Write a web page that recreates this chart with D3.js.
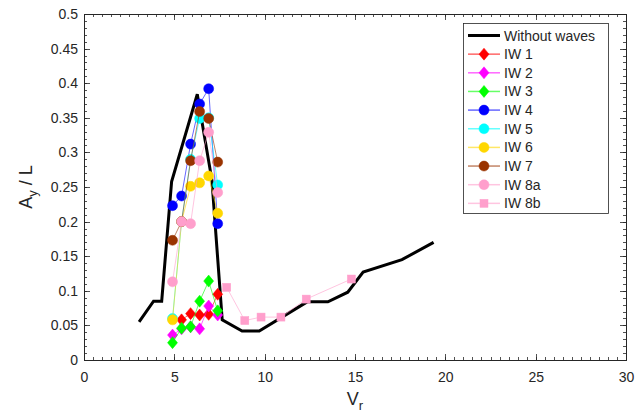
<!DOCTYPE html>
<html>
<head>
<meta charset="utf-8">
<script src="https://cdn.jsdelivr.net/npm/d3@7"></script>
<style>
  html, body { margin: 0; padding: 0; background: #fff; }
  svg { display: block; }
  text { font-family: "Liberation Sans", Arial, Helvetica, sans-serif; fill: #262626; }
</style>
</head>
<body>
<svg id="chart" width="641" height="415"></svg>
<script>
// ---- data ----
const vrBase = [3.05, 3.85, 4.3, 4.85, 6.27, 7.08, 7.65, 8.75, 9.7, 12.35, 13.5, 14.6, 15.45, 17.6, 19.35];
const ayBase = [0.055, 0.085, 0.085, 0.258, 0.384, 0.26, 0.058, 0.042, 0.042, 0.084, 0.084, 0.098, 0.127, 0.145, 0.17];

const vrIW1 = [5.4, 5.9, 6.4, 6.9, 7.4];
const ayIW1 = [0.058, 0.067, 0.065, 0.066, 0.095];
const vrIW2 = [4.9, 5.4, 5.9, 6.4, 6.9, 7.4];
const ayIW2 = [0.036, 0.045, 0.048, 0.045, 0.078, 0.065];
const vrIW3 = [4.9, 5.4, 5.9, 6.4, 6.9, 7.4];
const ayIW3 = [0.025, 0.046, 0.048, 0.085, 0.114, 0.071];
const vrIW4 = [4.9, 5.4, 5.9, 6.4, 6.9, 7.4];
const ayIW4 = [0.223, 0.237, 0.312, 0.37, 0.392, 0.197];
const vrIW5 = [4.9, 5.4, 5.9, 6.4, 6.9, 7.4];
const ayIW5 = [0.06, 0.2, 0.29, 0.349, 0.35, 0.253];
const vrIW6 = [4.9, 5.4, 5.9, 6.4, 6.9, 7.4];
const ayIW6 = [0.058, 0.2, 0.251, 0.256, 0.266, 0.212];
const vrIW7 = [4.9, 5.4, 5.9, 6.4, 6.9, 7.4];
const ayIW7 = [0.173, 0.2, 0.288, 0.359, 0.349, 0.286];
const vrIW8a = [4.9, 5.4, 5.9, 6.4, 6.9, 7.4];
const ayIW8a = [0.113, 0.2, 0.197, 0.288, 0.329, 0.242];
const vrIW8b = [7.9, 8.9, 9.8, 10.9, 12.3, 14.8];
const ayIW8b = [0.105, 0.057, 0.062, 0.062, 0.088, 0.117];

const seriesNames = ["IW 1", "IW 2", "IW 3", "IW 4", "IW 5", "IW 6", "IW 7", "IW 8a", "IW 8b"];
const seriesColors = ["#ff0000", "#ff00ff", "#00ff00", "#0000ff", "#00ffff", "#ffd700", "#993300", "#ff9fcc", "#ff9fcc"];
const seriesMarkers = ["diamond", "diamond", "diamond", "circle", "circle", "circle", "circle", "circle", "square"];
const seriesVr = [vrIW1, vrIW2, vrIW3, vrIW4, vrIW5, vrIW6, vrIW7, vrIW8a, vrIW8b];
const seriesAy = [ayIW1, ayIW2, ayIW3, ayIW4, ayIW5, ayIW6, ayIW7, ayIW8a, ayIW8b];

const xTicks = [0, 5, 10, 15, 20, 25, 30];
const yTicks = [0, 0.05, 0.1, 0.15, 0.2, 0.25, 0.3, 0.35, 0.4, 0.45, 0.5];
const yTickLabels = ["0", "0.05", "0.1", "0.15", "0.2", "0.25", "0.3", "0.35", "0.4", "0.45", "0.5"];

// ---- layout ----
const L = 84, R = 626, T = 14, B = 360;
const svg = d3.select("#chart");
const x = d3.scaleLinear().domain([0, 30]).range([L, R]);
const y = d3.scaleLinear().domain([0, 0.5]).range([B, T]);
const axisColor = "#262626";

// minor ticks
const xMinor = d3.range(0, 30.001, 0.5);
const yMinor = d3.range(0, 0.5001, 0.01);

const tickG = svg.append("g");
function tickLine(x1, y1, x2, y2) {
  tickG.append("line").attr("x1", x1).attr("y1", y1).attr("x2", x2).attr("y2", y2)
    .attr("stroke", axisColor).attr("stroke-width", 0.8);
}
xMinor.forEach(v => {
  const px = Math.round(x(v)) + 0.5;
  tickLine(px, B, px, B - 3);
  tickLine(px, T, px, T + 3);
});
xTicks.forEach(v => {
  const px = Math.round(x(v)) + 0.5;
  tickLine(px, B, px, B - 6);
  tickLine(px, T, px, T + 6);
});
yMinor.forEach(v => {
  const py = Math.round(y(v)) + 0.5;
  tickLine(L, py, L + 3, py);
  tickLine(R, py, R - 3, py);
});
yTicks.forEach(v => {
  const py = Math.round(y(v)) + 0.5;
  tickLine(L, py, L + 6, py);
  tickLine(R, py, R - 6, py);
});

// box
svg.append("rect").attr("x", L + 0.5).attr("y", T + 0.5).attr("width", R - L).attr("height", B - T)
  .attr("fill", "none").attr("stroke", axisColor).attr("stroke-width", 1);

// tick labels
const xAxis = d3.axisBottom(x).tickValues(xTicks).tickSize(0).tickPadding(12).tickFormat(d3.format("d"));
const gx = svg.append("g").attr("transform", `translate(0,${B})`).call(xAxis);
gx.select(".domain").remove();
gx.selectAll("text").attr("font-size", 14).style("font-family", '"Liberation Sans", Arial, sans-serif').attr("fill", axisColor);

const yAxis = d3.axisLeft(y).tickValues(yTicks).tickSize(0).tickPadding(6).tickFormat((d, i) => yTickLabels[i]);
const gy = svg.append("g").attr("transform", `translate(${L},0)`).call(yAxis);
gy.select(".domain").remove();
gy.selectAll("text").attr("font-size", 14).style("font-family", '"Liberation Sans", Arial, sans-serif').attr("fill", axisColor);

// axis labels
const xl = svg.append("text").attr("x", x(15)).attr("y", 405).attr("text-anchor", "middle").attr("font-size", 18);
xl.append("tspan").text("V");
xl.append("tspan").attr("font-size", 13).attr("dy", 5).text("r");

const yl = svg.append("text").attr("transform", `translate(32,${(T + B) / 2}) rotate(-90)`).attr("text-anchor", "middle").attr("font-size", 18);
yl.append("tspan").text("A");
yl.append("tspan").attr("font-size", 13).attr("dy", 5).text("y");
yl.append("tspan").attr("dy", -5).text(" / L");

// data
const line = d3.line().x(d => x(d[0])).y(d => y(d[1]));
const plotG = svg.append("g");
plotG.append("path").datum(vrBase.map((v, i) => [v, ayBase[i]]))
  .attr("d", line).attr("fill", "none").attr("stroke", "#000").attr("stroke-width", 3).attr("stroke-linejoin", "miter");

function drawMarker(g, type, cx, cy, color) {
  if (type === "circle") {
    g.append("circle").attr("cx", cx).attr("cy", cy).attr("r", 5).attr("fill", color).attr("stroke", color).attr("stroke-width", 0.5);
  } else if (type === "diamond") {
    g.append("path").attr("d", `M${cx},${cy - 6}L${cx + 5},${cy}L${cx},${cy + 6}L${cx - 5},${cy}Z`).attr("fill", color).attr("stroke", color).attr("stroke-width", 0.5);
  } else {
    g.append("rect").attr("x", cx - 4).attr("y", cy - 4).attr("width", 8).attr("height", 8).attr("fill", color).attr("stroke", color).attr("stroke-width", 0.5);
  }
}

seriesNames.forEach((name, k) => {
  const pts = seriesVr[k].map((v, i) => [v, seriesAy[k][i]]);
  const g = plotG.append("g");
  g.append("path").datum(pts).attr("d", line).attr("fill", "none")
    .attr("stroke", seriesColors[k]).attr("stroke-width", 1).attr("stroke-opacity", 0.6);
  pts.forEach(p => drawMarker(g, seriesMarkers[k], x(p[0]), y(p[1]), seriesColors[k]));
});

// legend
const lg = svg.append("g");
const lx = 463, ly = 23, lw = 145, lh = 190;
lg.append("rect").attr("x", lx + 0.5).attr("y", ly + 0.5).attr("width", lw).attr("height", lh)
  .attr("fill", "#fff").attr("stroke", axisColor).attr("stroke-width", 0.8);
const rowH = 18.65, row0 = 35.5;
const lineX1 = 468, lineX2 = 500, textX = 504;
lg.append("line").attr("x1", lineX1).attr("x2", lineX2).attr("y1", row0).attr("y2", row0)
  .attr("stroke", "#000").attr("stroke-width", 3);
lg.append("text").attr("x", textX).attr("y", row0 + 5).attr("font-size", 14).attr("fill", "#000").text("Without waves");
seriesNames.forEach((name, k) => {
  const yy = row0 + (k + 1) * rowH;
  lg.append("line").attr("x1", lineX1).attr("x2", lineX2).attr("y1", yy).attr("y2", yy)
    .attr("stroke", seriesColors[k]).attr("stroke-width", 1.5).attr("stroke-opacity", 0.6);
  drawMarker(lg, seriesMarkers[k], (lineX1 + lineX2) / 2, yy, seriesColors[k]);
  lg.append("text").attr("x", textX).attr("y", yy + 5).attr("font-size", 14).attr("fill", "#000").text(name);
});
</script>
</body>
</html>
